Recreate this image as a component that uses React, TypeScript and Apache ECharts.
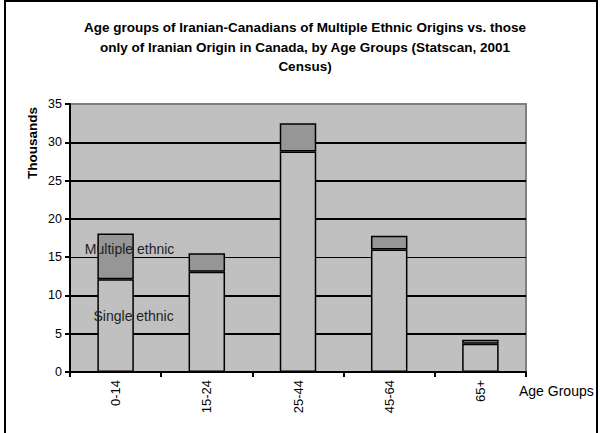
import React, { useEffect, useRef } from "react";
import * as echarts from "echarts";

const categories = ["0-14", "15-24", "25-44", "45-64", "65+"];
const singleEthnic = [12.1, 13.1, 28.8, 16.0, 3.7];
const multipleEthnic = [6.0, 2.4, 3.7, 1.8, 0.5];
const yTicks = [0, 5, 10, 15, 20, 25, 30, 35];
const gridValues = [5, 10, 15, 20, 25, 30];
const titleText =
  "Age groups of Iranian-Canadians of Multiple Ethnic Origins vs. those\nonly of Iranian Origin in Canada, by Age Groups (Statscan, 2001\nCensus)";

export default function App() {
  const ref = useRef<HTMLDivElement>(null);
  useEffect(() => {
    document.body.style.margin = "0";
    const chart = echarts.init(ref.current!, null, { renderer: "svg" });
    const font = "'Liberation Sans', Arial, sans-serif";
    chart.setOption({
      animation: false,
      textStyle: { fontFamily: font },
      title: {
        text: titleText,
        left: 300,
        top: 13,
        textAlign: "center",
        textStyle: { fontSize: 13.5, fontWeight: "bold", color: "#000", lineHeight: 19.5, fontFamily: font },
      },
      graphic: [
        {
          type: "rect",
          shape: { x: 5, y: 1, width: 592, height: 440 },
          style: { fill: "none", stroke: "#000", lineWidth: 2 },
          silent: true,
        },
        {
          type: "text",
          x: 32,
          y: 143,
          rotation: Math.PI / 2,
          style: {
            text: "Thousands",
            fontSize: 13.5,
            fontWeight: "bold",
            fill: "#000",
            fontFamily: font,
            align: "center",
            verticalAlign: "middle",
          },
        },
      ],
      grid: {
        left: 70,
        right: 74,
        top: 104,
        bottom: 61,
        show: true,
        backgroundColor: "#c0c0c0",
        borderColor: "#808080",
        borderWidth: 2,
      },
      xAxis: {
        type: "category",
        data: categories,
        name: "Age Groups",
        nameLocation: "end",
        nameGap: -7,
        nameTextStyle: { fontSize: 14, color: "#000", align: "left", verticalAlign: "top", padding: [12, 0, 0, 0] },
        axisLine: { lineStyle: { color: "#000", width: 2 } },
        axisTick: { show: true, length: 5, lineStyle: { color: "#000", width: 2 } },
        axisLabel: { rotate: 90, fontSize: 13, color: "#000", margin: 8 },
        splitLine: { show: false },
      },
      yAxis: {
        type: "value",
        min: 0,
        max: 35,
        interval: 5,
        axisLine: { show: true, lineStyle: { color: "#000", width: 2 } },
        axisTick: { show: true, length: 5, lineStyle: { color: "#000", width: 2 } },
        axisLabel: {
          fontSize: 12.5,
          color: "#000",
          margin: 8,
          formatter: (v: number) => (yTicks.includes(v) ? String(v) : ""),
        },
        splitLine: { show: false },
      },
      series: [
        {
          type: "line",
          data: [],
          silent: true,
          z: 1,
          markLine: {
            silent: true,
            z: 1,
            symbol: "none",
            label: { show: false },
            data: gridValues.map((v) => ({
              yAxis: v,
              lineStyle: { color: "#000", type: "solid", width: v === 15 ? 1 : 2 },
            })),
          },
        },
        {
          name: "Single ethnic",
          type: "bar",
          stack: "total",
          data: singleEthnic.map((v, i) =>
            i === 0
              ? {
                  value: v,
                  label: {
                    show: true,
                    position: "inside",
                    formatter: "Single ethnic",
                    offset: [18, -10],
                    fontSize: 14,
                    color: "#222",
                  },
                }
              : v
          ),
          barWidth: "40%",
          z: 3,
          itemStyle: { color: "#c0c0c0", borderColor: "#000", borderWidth: 1.5 },
        },
        {
          name: "Multiple ethnic",
          type: "bar",
          stack: "total",
          data: multipleEthnic.map((v, i) =>
            i === 0
              ? {
                  value: v,
                  label: {
                    show: true,
                    position: "inside",
                    formatter: "Multiple ethnic",
                    offset: [14, -7],
                    fontSize: 14,
                    color: "#222",
                  },
                }
              : v
          ),
          barWidth: "40%",
          z: 3,
          itemStyle: { color: "#969696", borderColor: "#000", borderWidth: 1.5 },
        },
      ],
    });
    return () => chart.dispose();
  }, []);
  return <div ref={ref} style={{ width: 600, height: 433 }} />;
}
